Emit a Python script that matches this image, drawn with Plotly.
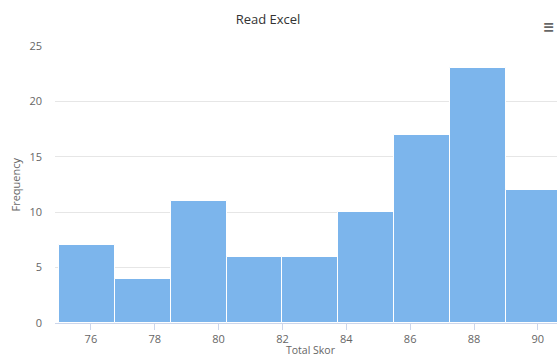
import plotly.graph_objects as go

# Data
bin_starts = [75.0, 76.75, 78.5, 80.25, 82.0, 83.75, 85.5, 87.25, 89.0]
bin_width = 1.75
frequencies = [7, 4, 11, 6, 6, 10, 17, 23, 12]
title_text = "Read Excel"
x_title = "Total Skor"
y_title = "Frequency"

centers = [s + bin_width / 2 for s in bin_starts]

W, H = 557, 356
ML, MR, MT, MB = 55, 0, 46, 33
FONT = "Open Sans, Lato, DejaVu Sans, sans-serif"

fig = go.Figure(go.Bar(
    x=centers, y=frequencies, width=bin_width,
    marker=dict(color="#7cb5ec", line=dict(color="#ffffff", width=1)),
    hoverinfo="x+y",
))

fig.update_layout(
    width=W, height=H,
    margin=dict(l=ML, r=MR, t=MT, b=MB, pad=0),
    plot_bgcolor="#ffffff", paper_bgcolor="#ffffff",
    showlegend=False,
    bargap=0,
    font=dict(family=FONT, color="#666666", size=11),
    title=dict(text=title_text, x=268 / W, xanchor="center", y=1 - 19 / H, yanchor="middle",
               font=dict(size=13, color="#333333", family=FONT)),
    xaxis=dict(
        range=[74.875, 90.6], tickvals=[76, 78, 80, 82, 84, 86, 88, 90],
        showgrid=False, zeroline=False,
        showline=True, linecolor="#ccd6eb", linewidth=1,
        ticks="outside", ticklen=6, tickcolor="#ccd6eb",
        tickfont=dict(size=11, color="#666666"),
    ),
    yaxis=dict(
        range=[0, 25], tickvals=[0, 5, 10, 15, 20, 25],
        showgrid=True, gridcolor="#e6e6e6", gridwidth=1,
        zeroline=False, showline=False,
        ticklabelstandoff=12,
        tickfont=dict(size=11, color="#666666"),
    ),
    annotations=[
        dict(text=x_title, xref="paper", yref="paper",
             x=(311 - ML) / (W - ML - MR), y=-(350 - (H - MB)) / (H - MT - MB),
             xanchor="center", yanchor="middle", showarrow=False,
             font=dict(size=10.5, color="#666666")),
        dict(text=y_title, xref="paper", yref="paper",
             x=-(ML - 15) / (W - ML - MR), y=0.5, textangle=-90,
             xanchor="center", yanchor="middle", showarrow=False,
             font=dict(size=11, color="#666666")),
        dict(text="<b>≡</b>", xref="paper", yref="paper",
             x=(549 - ML) / (W - ML - MR), y=1 + (MT - 27) / (H - MT - MB),
             xanchor="center", yanchor="middle", showarrow=False,
             font=dict(size=20, color="#666666")),
    ],
)

fig.write_html("out.html")
